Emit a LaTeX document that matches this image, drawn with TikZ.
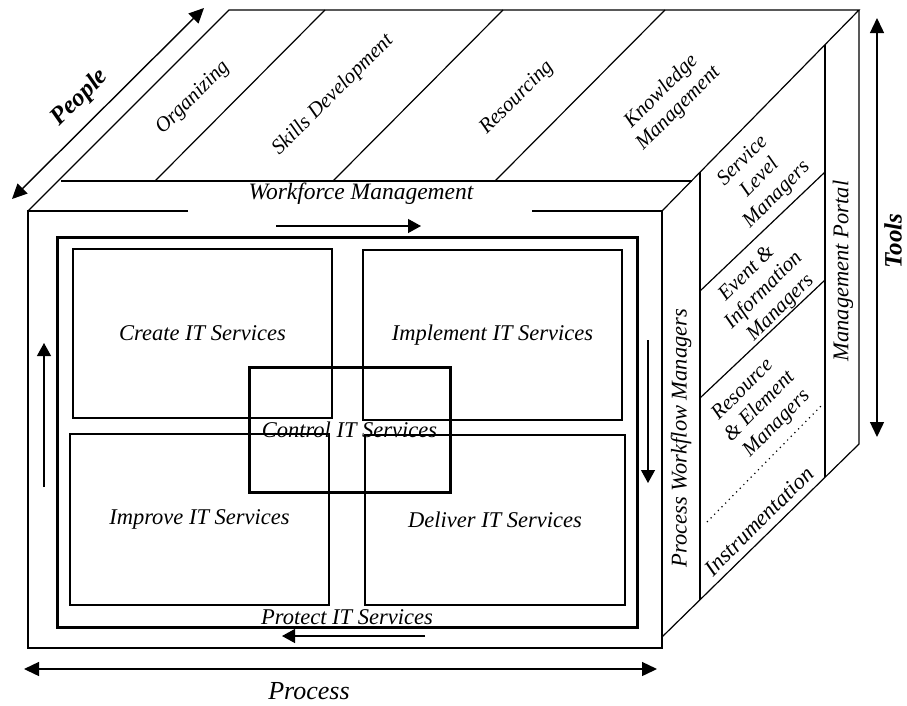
\documentclass[tikz,border=0pt]{standalone}
\usepackage{fontspec}
\setmainfont{Liberation Serif}
\usetikzlibrary{arrows.meta}
\begin{document}
\begin{tikzpicture}[x=1pt,y=-1pt,
  edge/.style={line width=1.2pt},
  heavy/.style={line width=3pt},
  lbl/.style={font=\fontsize{21}{24}\selectfont\itshape, inner sep=0pt, align=center},
  midlbl/.style={font=\fontsize{22.5}{25}\selectfont\itshape, inner sep=0pt, align=center},
  axislbl/.style={font=\fontsize{25}{30}\selectfont\bfseries\itshape, inner sep=0pt},
  svc/.style={draw, line width=1.4pt, inner sep=0pt, font=\fontsize{22.5}{25}\selectfont\itshape},
  flow/.style={line width=1.2pt, -{Triangle[length=13pt,width=14pt]}},
  axis/.style={line width=1.4pt, {Triangle[length=15pt,width=14pt]}-{Triangle[length=15pt,width=14pt]}},
]
\useasboundingbox (0,0) rectangle (907,705);

% ---- cube outline ----
% front face (top edge interrupted above the arrow)
\draw[edge] (188,211) -- (28,211) -- (28,648) -- (662,648) -- (662,211) -- (532,211);
% top face
\draw[edge] (28,211) -- (229,10) -- (859,10) -- (662,211);
\draw[edge] (61,181) -- (692,181);
\draw[edge] (155,181) -- (325,10);
\draw[edge] (333,181) -- (503,10);
\draw[edge] (495,181) -- (665,10);
% right face
\draw[edge] (859,10) -- (859,444) -- (662,637);
\draw[edge] (700,172) -- (700,600);
\draw[edge] (825,45) -- (825,477);
\draw[edge] (700,291) -- (825,172);
\draw[edge] (700,398) -- (825,280);
\draw[line width=1.2pt, dash pattern=on 1.2pt off 4pt] (707,522) -- (822,405);

% ---- process loop ----
\draw[heavy] (57,237) rectangle (637,627);

\node[svc, minimum width=259pt, minimum height=169pt] (create) at (202.5,333.5) {Create IT Services};
\node[svc, minimum width=259pt, minimum height=170pt] (implement) at (492.5,335) {Implement IT Services};
\node[svc, minimum width=259pt, minimum height=171pt] (improve) at (199.5,519.5) {Improve IT Services};
\node[svc, minimum width=260pt, minimum height=170pt] (deliver) at (495,520) {Deliver IT Services};
\node[draw, line width=3pt, inner sep=0pt, minimum width=201pt, minimum height=125pt,
      font=\fontsize{22.5}{25}\selectfont\itshape] (control) at (349.5,429.5) {Control IT Services};

\node[midlbl] (protect) at (347,617) {Protect IT Services};
\node[font=\fontsize{23.5}{26}\selectfont\itshape, inner sep=0pt] (workforce) at (361,194) {Workforce Management};

% flow arrows around the loop
\coordinate (topS) at (276,226);  \coordinate (topE) at (421,226);
\coordinate (rgtS) at (648,340);  \coordinate (rgtE) at (648,483);
\coordinate (botS) at (425,636);  \coordinate (botE) at (282,636);
\coordinate (lftS) at (44,487);   \coordinate (lftE) at (44,343);
\draw[flow] (topS) -- (topE);
\draw[flow] (rgtS) -- (rgtE);
\draw[flow] (botS) -- (botE);
\draw[flow] (lftS) -- (lftE);

% ---- top face labels ----
\node[lbl, rotate=45] (organizing) at (193,98) {Organizing};
\node[lbl, rotate=45] (skills) at (333,95) {Skills Development};
\node[lbl, rotate=45] (resourcing) at (517,98) {Resourcing};
\node[lbl, rotate=45] (knowledge) at (670,100) {Knowledge\\Management};

% ---- right face labels ----
\node[midlbl, rotate=90] (workflow) at (681,438) {Process Workflow Managers};
\node[midlbl, rotate=90] (portal) at (843,271) {Management Portal};
\node[lbl, rotate=45] (slm) at (760,178) {Service\\Level\\Managers};
\node[lbl, rotate=45] (eim) at (764,291) {Event \&\\Information\\Managers};
\node[lbl, rotate=45] (rem) at (760,407) {Resource\\\& Element\\Managers};
\node[midlbl, rotate=45] (instr) at (759,521) {Instrumentation};

% ---- axes ----
\coordinate (peopleA) at (12,199);  \coordinate (peopleB) at (204,8);
\coordinate (toolsA) at (877,18);   \coordinate (toolsB) at (877,437);
\coordinate (procA) at (24,669);    \coordinate (procB) at (657,669);
\draw[axis] (peopleA) -- (peopleB);
\draw[axis] (toolsA) -- (toolsB);
\draw[axis] (procA) -- (procB);
\node[axislbl, rotate=45] (people) at (80,98) {People};
\node[axislbl, rotate=90] (tools) at (893,241) {Tools};
\node[font=\fontsize{26}{30}\selectfont\itshape, inner sep=0pt] (process) at (309,691) {Process};
\end{tikzpicture}
\end{document}
